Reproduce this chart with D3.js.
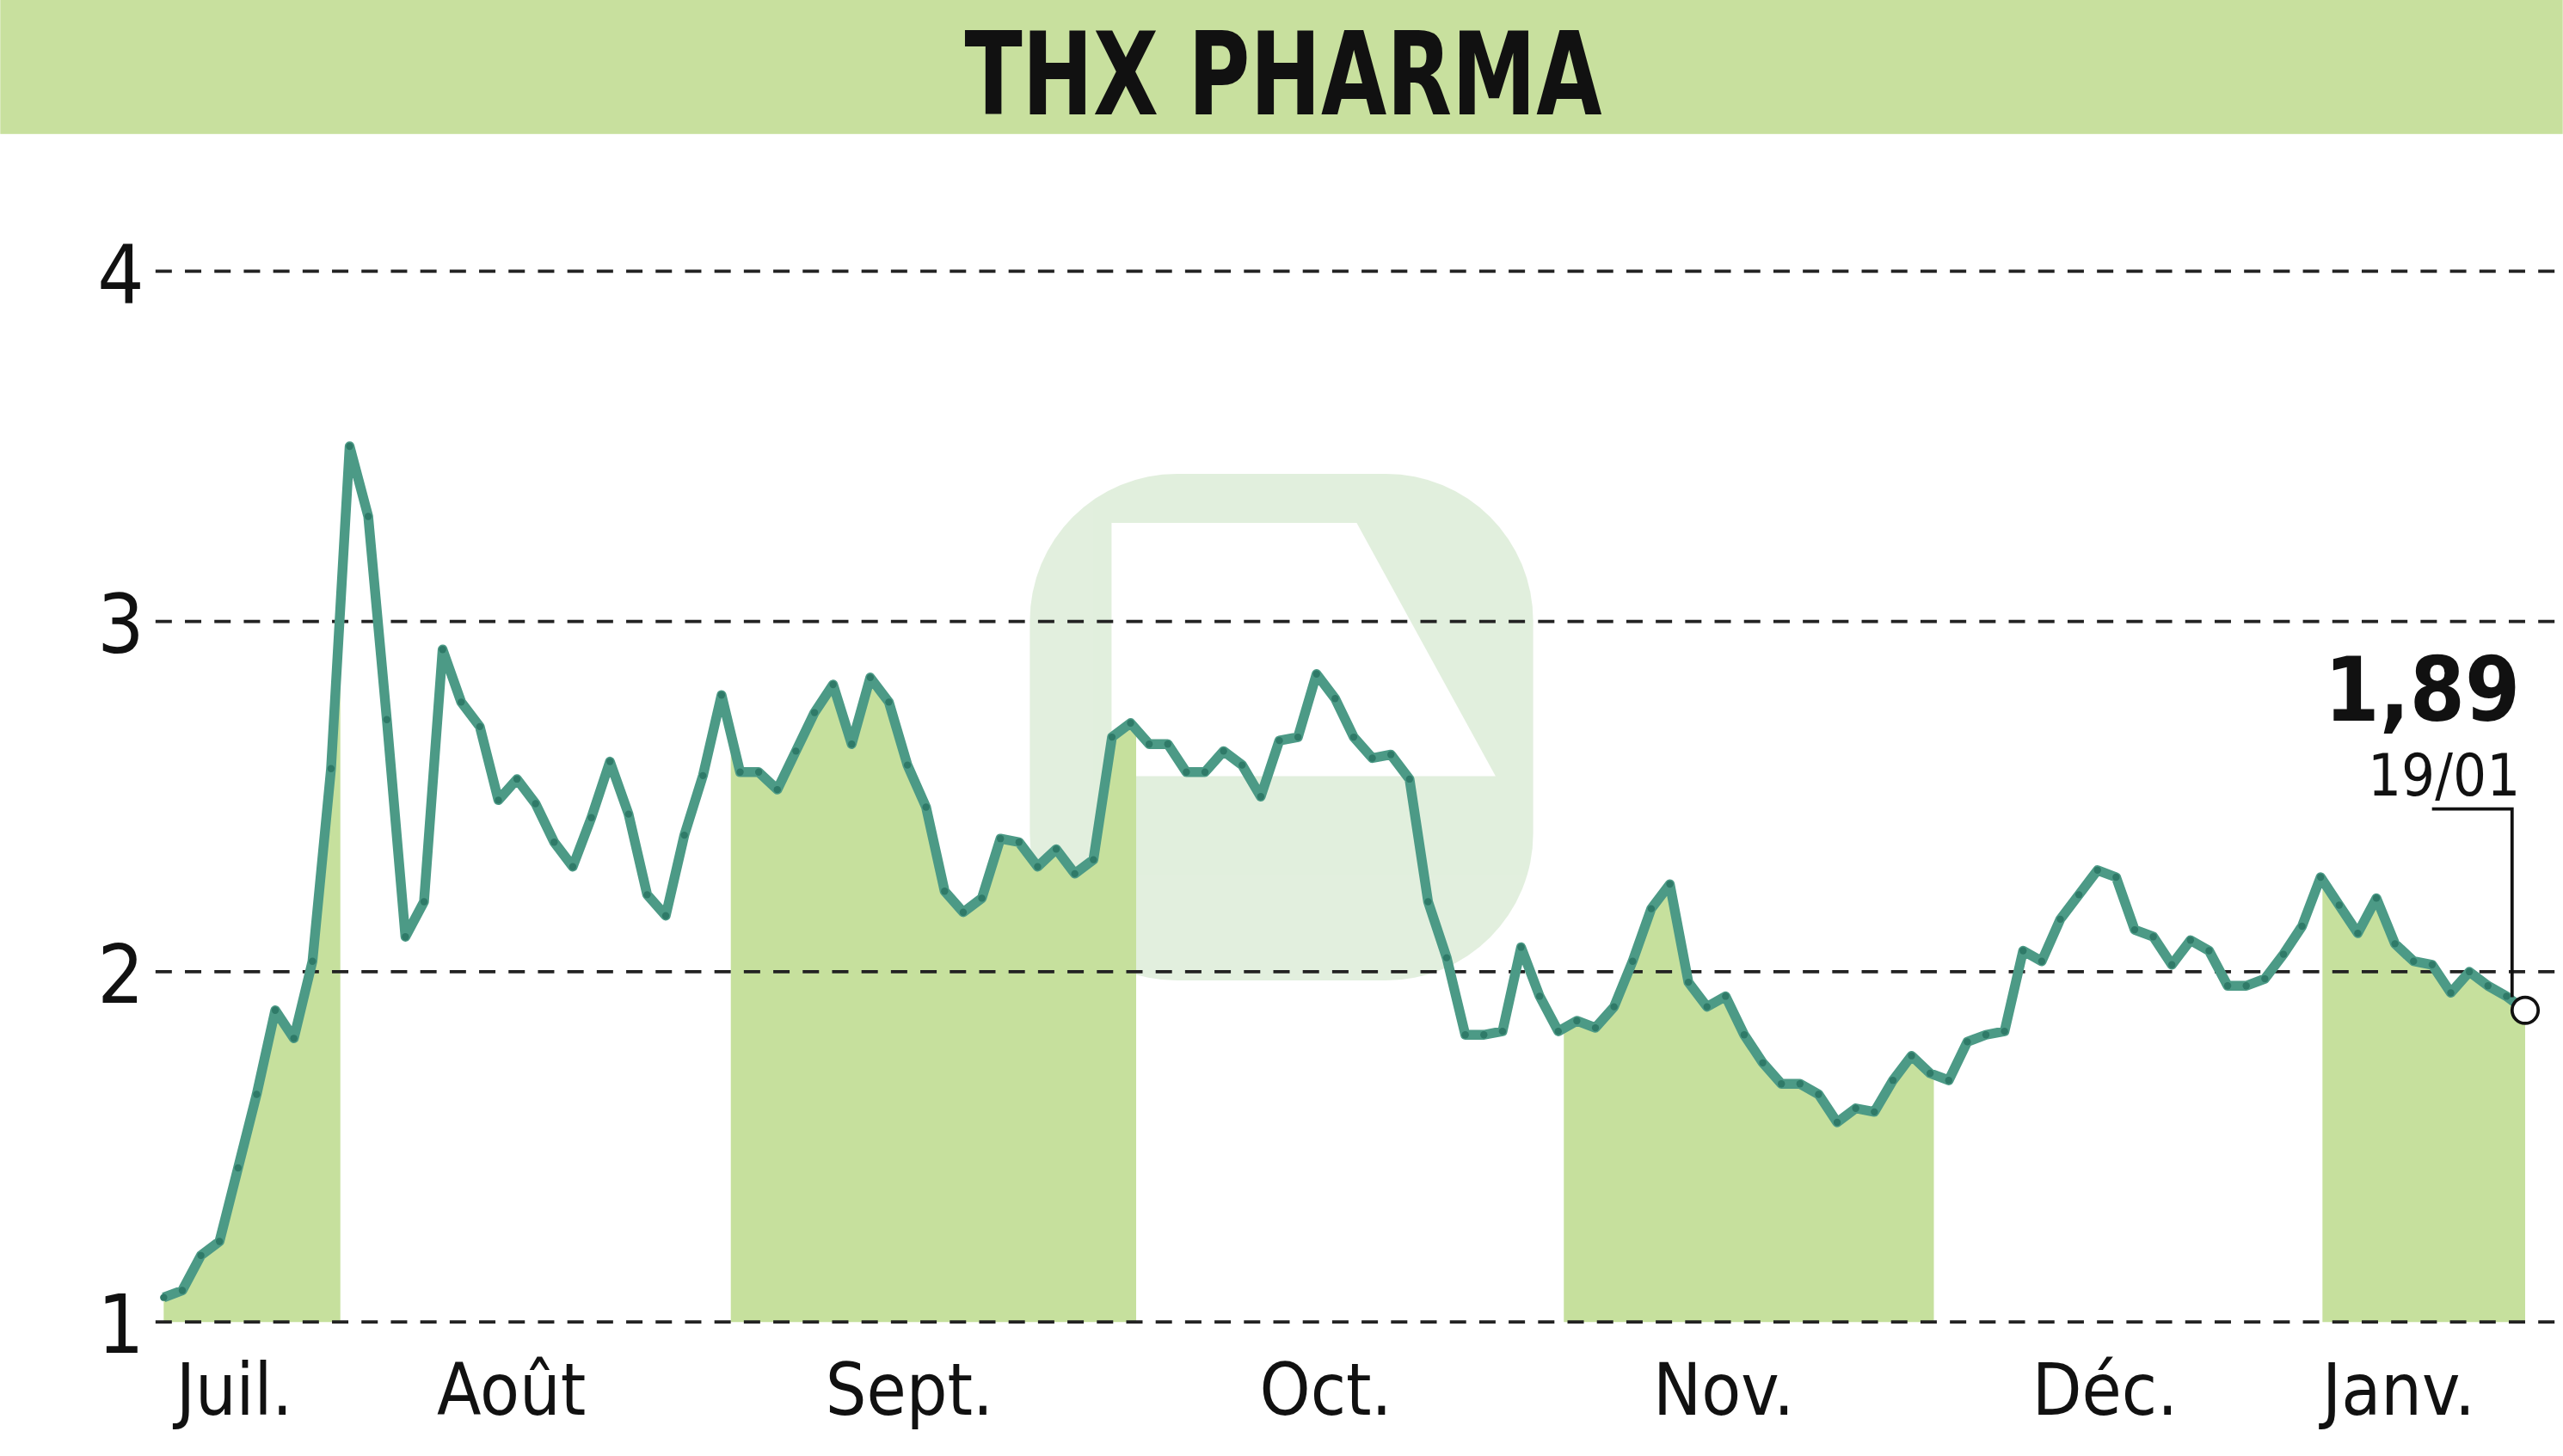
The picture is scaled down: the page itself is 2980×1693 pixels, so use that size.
<!DOCTYPE html>
<html><head><meta charset="utf-8">
<script src="https://cdn.jsdelivr.net/npm/d3@7"></script>
<style>html,body{margin:0;padding:0;background:#fff;overflow:hidden}</style>
</head><body>
<script>
const title = "THX PHARMA";
const values = [1.07,1.09,1.19,1.23,1.44,1.65,1.89,1.81,2.03,2.58,3.50,3.30,2.72,2.10,2.20,2.92,2.77,2.70,2.49,2.55,2.48,2.37,2.30,2.44,2.60,2.45,2.22,2.16,2.39,2.56,2.79,2.57,2.57,2.52,2.63,2.74,2.82,2.65,2.84,2.77,2.59,2.47,2.23,2.17,2.21,2.38,2.37,2.30,2.35,2.28,2.32,2.67,2.71,2.65,2.65,2.57,2.57,2.63,2.59,2.50,2.66,2.67,2.85,2.78,2.67,2.61,2.62,2.55,2.20,2.04,1.82,1.82,1.83,2.07,1.93,1.83,1.86,1.84,1.90,2.03,2.18,2.25,1.97,1.90,1.93,1.82,1.74,1.68,1.68,1.65,1.57,1.61,1.60,1.69,1.76,1.71,1.69,1.80,1.82,1.83,2.06,2.03,2.15,2.22,2.29,2.27,2.12,2.10,2.02,2.09,2.06,1.96,1.96,1.98,2.05,2.13,2.27,2.19,2.11,2.21,2.08,2.03,2.02,1.94,2.00,1.96,1.93,1.89];
const monthLabels = ["Juil.","Août","Sept.","Oct.","Nov.","Déc.","Janv."];
const monthLabelPos = [3.8,18.7,40.1,62.5,83.9,104.4,120.2];
const bandStarts = [0,30.5,75.3,116.1];
const bandEnds = [9.5,52.3,95.2,127];
const yTicks = [1,2,3,4];
const lastValue = "1,89", lastDate = "19/01";

const W=1568,H=891;
const svg=d3.select("body").append("svg").attr("width",2980).attr("height",1693).attr("viewBox",`0 0 ${W} ${H}`);
const N=values.length-1;
const x=d3.scaleLinear().domain([0,N]).range([100,1545]);
const y=d3.scaleLinear().domain([1,4]).range([809,166]);
const font="'DejaVu Sans Condensed','DejaVu Sans',sans-serif";

svg.append("rect").attr("x",0).attr("y",0).attr("width",W).attr("height",82).attr("fill","#c8e09e");
svg.append("text").attr("x",785).attr("y",70).attr("text-anchor","middle").attr("font-family",font)
  .attr("font-weight","bold").attr("font-size",70).attr("fill","#111")
  .attr("textLength",390).attr("lengthAdjust","spacingAndGlyphs").text(title);

const wm=svg.append("g").attr("opacity",0.25);
wm.append("rect").attr("x",630).attr("y",290).attr("width",308).attr("height",310).attr("rx",90).attr("fill","#8cc07a");
wm.append("path").attr("d","M680,320 L830,320 L915,475 L680,475 Z").attr("fill","#fff");

const interp=t=>{const a=Math.floor(t),b=Math.min(N,Math.ceil(t));return a===b?values[a]:values[a]+(values[b]-values[a])*(t-a);};
bandStarts.forEach((s,i)=>{
  const e=bandEnds[i];
  const mid=values.map((v,j)=>[j,v]).filter(d=>d[0]>s&&d[0]<e);
  const pts=[[s,interp(s)],...mid,[e,interp(e)]];
  svg.append("path").datum(pts).attr("fill","#c6e09d")
    .attr("d",d3.area().x(d=>x(d[0])).y0(y(1)).y1(d=>y(d[1])));
});

yTicks.forEach(t=>{
  svg.append("line").attr("x1",95).attr("x2",W).attr("y1",y(t)).attr("y2",y(t))
    .attr("stroke","#222").attr("stroke-width",2).attr("stroke-dasharray","10,8");
  svg.append("text").attr("x",88).attr("y",y(t)+19).attr("text-anchor","end").attr("font-family",font)
    .attr("font-size",50).attr("fill","#111").text(t);
});

svg.append("path").datum(values).attr("fill","none").attr("stroke","#4c9a86").attr("stroke-width",6)
  .attr("stroke-linejoin","round").attr("d",d3.line().x((d,i)=>x(i)).y(d=>y(d)));
svg.selectAll(".pt").data(values).enter().append("circle").attr("cx",(d,i)=>x(i)).attr("cy",d=>y(d))
  .attr("r",2.2).attr("fill","#2f7a68");

monthLabels.forEach((m,i)=>{
  svg.append("text").attr("x",x(monthLabelPos[i])).attr("y",866).attr("text-anchor","middle")
    .attr("font-family",font).attr("font-size",44).attr("fill","#111").text(m);
});

const lx=x(N),ly=y(values[N]);
svg.append("text").attr("x",1542).attr("y",441).attr("text-anchor","end").attr("font-family",font)
  .attr("font-weight","bold").attr("font-size",54).attr("fill","#111").text(lastValue);
svg.append("text").attr("x",1542).attr("y",487).attr("text-anchor","end").attr("font-family",font)
  .attr("font-size",36).attr("fill","#111").text(lastDate);
svg.append("path").attr("d",`M1488,495 L1537,495 L1537,${ly-8}`).attr("fill","none").attr("stroke","#111").attr("stroke-width",2);
svg.append("circle").attr("cx",lx).attr("cy",ly).attr("r",8).attr("fill","#fff").attr("stroke","#111").attr("stroke-width",2);
</script>
</body></html>
